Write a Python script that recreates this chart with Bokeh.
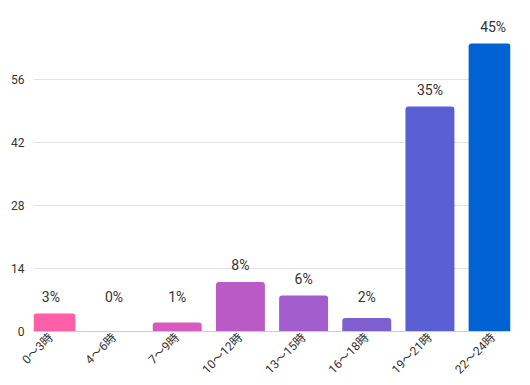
from bokeh.plotting import figure
from bokeh.models import ColumnDataSource, FixedTicker, Range1d, FactorRange
from bokeh.core.properties import value
from bokeh.embed import file_html
from bokeh.resources import INLINE
import math

categories = ["0〜3時", "4〜6時", "7〜9時", "10〜12時", "13〜15時", "16〜18時", "19〜21時", "22〜24時"]
counts = [4, 0, 2, 11, 8, 3, 50, 64]
percents = [3, 0, 1, 8, 6, 2, 35, 45]
colors = ["#FF5FA8", "#FF5FA8", "#D55BC0", "#BA5BC5", "#A05DCB", "#7F5ECF", "#5A5FD3", "#0062D3"]
y_ticks = [0, 14, 28, 42, 56]

bar_width = 0.775
label_floor = 4
source = ColumnDataSource(data=dict(
    cat=categories,
    count=counts,
    color=colors,
    label=[f"{v}%" for v in percents],
    label_y=[max(c, label_floor) for c in counts],
))

p = figure(
    x_range=FactorRange(*categories, range_padding=-(1 - bar_width), range_padding_units="absolute"),
    y_range=Range1d(0, 70),
    width=530, height=385,
    output_backend="svg", toolbar_location=None,
    min_border_left=33, min_border_right=20, min_border_top=16, min_border_bottom=54,
)
p.outline_line_color = None
p.background_fill_color = "white"
p.border_fill_color = "white"

p.vbar(x="cat", top="count", width=bar_width, source=source, fill_color="color",
       line_color=None, border_radius=(3, 3, 0, 0))

p.text(x="cat", y="label_y", text="label", source=source, text_align="center",
       text_baseline="bottom", y_offset=-9, text_font=value("Roboto"),
       text_font_size="14px", text_color="#333333")

p.yaxis.ticker = FixedTicker(ticks=y_ticks)
p.yaxis.axis_line_color = None
p.yaxis.major_tick_line_color = None
p.yaxis.major_tick_out = 0
p.yaxis.major_tick_in = 0
p.yaxis.minor_tick_line_color = None
p.yaxis.major_label_text_font = "Roboto"
p.yaxis.major_label_text_font_size = "12px"
p.yaxis.major_label_text_color = "#333333"
p.yaxis.major_label_standoff = 9

p.xaxis.axis_line_color = "#cccccc"
p.xaxis.major_tick_line_color = None
p.xaxis.major_tick_out = 0
p.xaxis.major_tick_in = 0
p.xaxis.minor_tick_line_color = None
p.xaxis.major_label_orientation = math.pi / 4
p.xaxis.major_label_text_font = "Roboto, 'Noto Sans CJK JP'"
p.xaxis.major_label_text_font_size = "12px"
p.xaxis.major_label_text_color = "#333333"
p.xaxis.major_label_standoff = 4

p.xgrid.grid_line_color = None
p.ygrid.ticker = FixedTicker(ticks=y_ticks)
p.ygrid.grid_line_color = "#e3e3e3"

open("out.html", "w").write(file_html(p, INLINE))
